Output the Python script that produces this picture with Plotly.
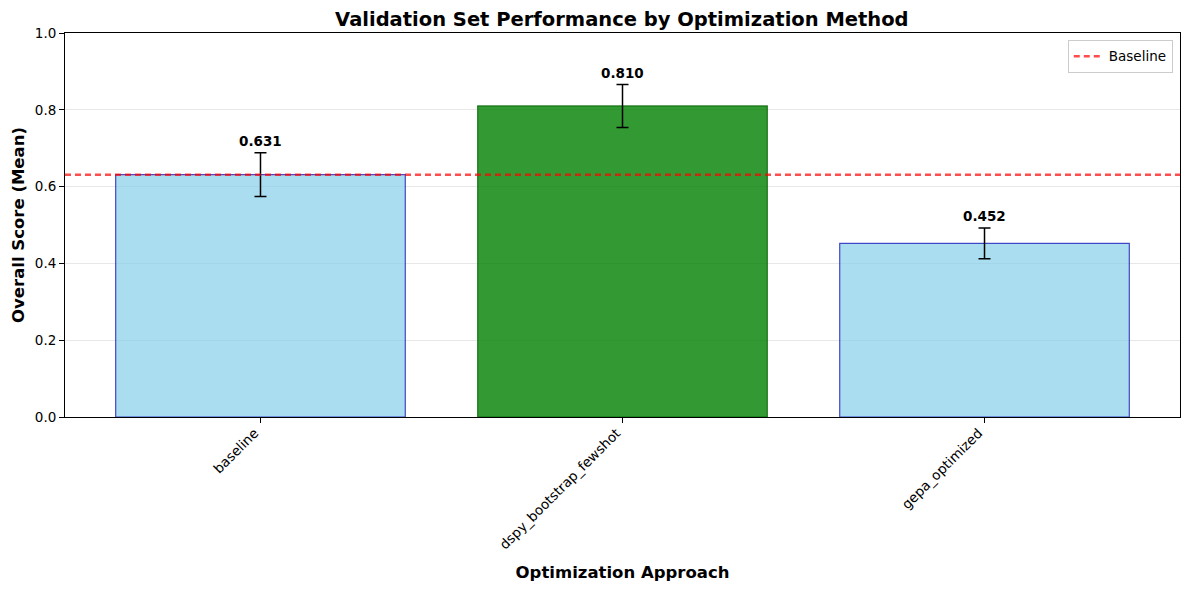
import plotly.graph_objects as go

methods = ["baseline", "dspy_bootstrap_fewshot", "gepa_optimized"]
means = [0.631, 0.810, 0.452]
errors = [0.057, 0.056, 0.040]
baseline_value = 0.631

fill_colors = ["rgba(135,206,235,0.7)", "rgba(0,128,0,0.8)", "rgba(135,206,235,0.7)"]
edge_colors = ["rgba(0,0,180,0.7)", "rgba(0,100,0,0.8)", "rgba(0,0,180,0.7)"]

xpos = list(range(len(methods)))
FONT = "DejaVu Sans, Liberation Sans, sans-serif"

fig = go.Figure()
fig.add_trace(go.Bar(
    x=xpos, y=means, width=0.8,
    marker=dict(color=fill_colors, line=dict(color=edge_colors, width=1.2)),
    error_y=dict(type="data", array=errors, visible=True, color="black", thickness=1.5, width=6),
    showlegend=False, hoverinfo="skip",
))

for x, m, e in zip(xpos, means, errors):
    fig.add_annotation(x=x, y=m + e + 0.01, text=f"<b>{m:.3f}</b>", showarrow=False,
                       yanchor="bottom", xanchor="center",
                       font=dict(family=FONT, size=13.5, color="black"), yshift=-2)

fig.add_hline(y=baseline_value, line=dict(color="rgba(255,0,0,0.7)", width=2.5, dash="6px,4px"),
              showlegend=True, name="Baseline", layer="above")

fig.update_layout(
    width=1189, height=590,
    margin=dict(l=65, r=9, t=33, b=173, autoexpand=False),
    paper_bgcolor="white", plot_bgcolor="white",
    font=dict(family=FONT, size=13, color="black"),
    title=dict(text="<b>Validation Set Performance by Optimization Method</b>",
               x=0.523, xanchor="center", y=0.968, yanchor="middle",
               font=dict(family=FONT, size=19.5, color="black")),
    legend=dict(x=0.9935, y=0.982, xanchor="right", yanchor="top",
                bgcolor="rgba(255,255,255,0.8)", bordercolor="#cccccc", borderwidth=1,
                font=dict(family=FONT, size=13.5)),
    bargap=0.2,
)
fig.update_xaxes(
    automargin=False,
    range=[-0.54, 2.54], tickvals=xpos, ticktext=methods, tickangle=-45,
    showline=True, linecolor="black", linewidth=1, mirror=True,
    ticks="outside", ticklen=5, tickcolor="black", showgrid=False,
    ticklabelshift=-6, ticklabelstandoff=-3,
    title=dict(text="<b>Optimization Approach</b>", font=dict(family=FONT, size=16.5)),
    tickfont=dict(family=FONT, size=13.5),
)
fig.update_yaxes(
    automargin=False,
    range=[0, 1], dtick=0.2, tickformat=".1f",
    showline=True, linecolor="black", linewidth=1, mirror=True,
    ticks="outside", ticklen=5, tickcolor="black",
    showgrid=True, gridcolor="rgba(176,176,176,0.3)", gridwidth=1, zeroline=False,
    title=dict(text="<b>Overall Score (Mean)</b>", font=dict(family=FONT, size=16.5), standoff=6),
    tickfont=dict(family=FONT, size=13.5),
)

fig.write_html("out.html", config={"displayModeBar": False},
               post_script="document.body.style.margin='0';document.body.style.overflow='hidden';")
